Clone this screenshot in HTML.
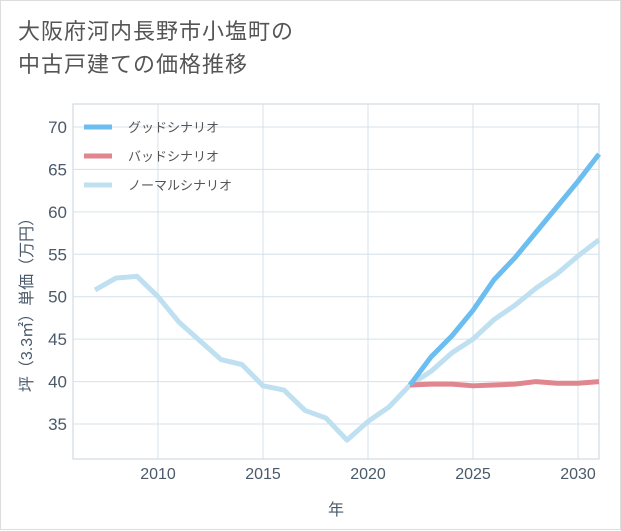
<!DOCTYPE html>
<html><head><meta charset="utf-8"><style>
body{margin:0;background:#fff;}
#wrap{position:relative;width:619px;height:528px;border:1px solid #ddd;background:#fff;font-family:"Liberation Sans","Noto Sans CJK JP",sans-serif;}
#title{position:absolute;left:17px;top:14px;font-size:22px;line-height:33px;color:#555;letter-spacing:1px;}
svg text{font-family:"Liberation Sans","Noto Sans CJK JP",sans-serif;}
</style></head><body>
<div id="wrap">
<div id="title">大阪府河内長野市小塩町の<br>中古戸建ての価格推移</div>
<svg id="chart" width="621" height="530" style="position:absolute;left:0;top:0"></svg>
</div>
<script>
const years=[2007,2008,2009,2010,2011,2012,2013,2014,2015,2016,2017,2018,2019,2020,2021,2022,2023,2024,2025,2026,2027,2028,2029,2030,2031];
const normalVals=[50.8,52.2,52.4,50.0,47.0,44.8,42.6,42.0,39.5,39.0,36.6,35.7,33.1,35.3,37.0,39.6,41.2,43.4,45.0,47.3,49.0,51.0,52.7,54.8,56.7];
const futureYears=[2022,2023,2024,2025,2026,2027,2028,2029,2030,2031];
const goodVals=[39.6,42.9,45.4,48.4,52.0,54.6,57.6,60.6,63.6,66.8];
const badVals=[39.6,39.7,39.7,39.5,39.6,39.7,40.0,39.8,39.8,40.0];
const xTicks=[2010,2015,2020,2025,2030];
const yTicks=[35,40,45,50,55,60,65,70];
const L=72,R=598,T=103,B=458;
const x=v=>157+(v-2010)*21;
const y=v=>423-(v-35)*(297/35);
const svg=document.getElementById('chart');
const NS='http://www.w3.org/2000/svg';
function mk(t,a,p){const e=document.createElementNS(NS,t);for(const k in a)e.setAttribute(k,a[k]);(p||svg).appendChild(e);return e;}
const bg=mk('rect',{x:L,y:T,width:R-L,height:B-T,fill:'#fff',stroke:'#c8d3dc'});


xTicks.forEach(t=>{
 const g=mk('line',{x1:x(t),x2:x(t),y1:T,y2:B,stroke:'#d5e0ea'});
 
 
 const tx=mk('text',{x:x(t),y:478,'text-anchor':'middle','font-size':16,fill:'#4a5a6a'});tx.textContent=t;
 
 
});
yTicks.forEach(t=>{
 const g=mk('line',{x1:L,x2:R,y1:y(t),y2:y(t),stroke:'#d5e0ea'});
 
 
 const tx=mk('text',{x:66,y:y(t)+6,'text-anchor':'end','font-size':17,fill:'#4a5a6a'});tx.textContent=t;
 
 
});
function line(xs,vs,c,name){
 const p=mk('polyline',{points:xs.map((v,i)=>x(v)+','+y(vs[i])).join(' '),fill:'none',stroke:c,'stroke-width':5,'stroke-linejoin':'round'});
 
 
}
line(years,normalVals,'#bfe0f0','normal-scenario-line');
line(futureYears,badVals,'#e0868f','bad-scenario-line');
line(futureYears,goodVals,'#6cbdf0','good-scenario-line');
const leg=[['グッドシナリオ','#6cbdf0'],['バッドシナリオ','#e0868f'],['ノーマルシナリオ','#bfe0f0']];
leg.forEach((d,i)=>{
 const yy=126+i*29;
 const s=mk('line',{x1:83,x2:111,y1:yy,y2:yy,stroke:d[1],'stroke-width':5});
 
 
 const t=mk('text',{x:127,y:yy+5,'font-size':13,fill:'#555'});t.textContent=d[0];
 
 
});
const xt=mk('text',{x:335,y:514,'text-anchor':'middle','font-size':16,fill:'#4a5a6a'});xt.textContent='年';


const yt=mk('text',{x:0,y:0,'text-anchor':'middle','font-size':16,fill:'#4a5a6a',transform:'translate(31,300) rotate(-90)'});yt.textContent='坪（3.3㎡）単価（万円）';


</script>
</body></html>
